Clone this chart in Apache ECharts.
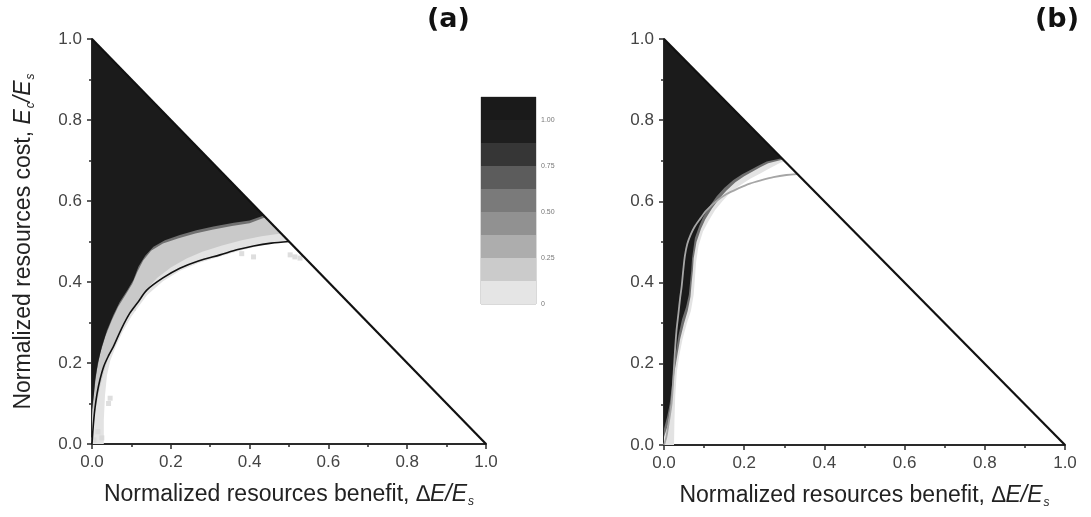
<!DOCTYPE html>
<html>
<head>
<meta charset="utf-8">
<script src="https://cdn.jsdelivr.net/npm/echarts@6/dist/echarts.min.js"></script>
<style>
  html, body { margin: 0; padding: 0; background: #fff; }
  #chart { width: 1091px; height: 517px; }
</style>
</head>
<body>
<div id="chart"></div>
<script>
// Feasible-region boundary between the simplex edge and the theoretical curve.
var diagonal = [[0, 1], [1, 0]];

// Panel (a): theoretical curve and fraction-level contours
var curveA = [[0,0],[0.002,0.03],[0.005,0.065],[0.008,0.092],[0.013,0.125],[0.02,0.158],[0.03,0.192],[0.042,0.218],[0.054,0.24],[0.075,0.285],[0.096,0.323],[0.118,0.352],[0.139,0.38],[0.18,0.41],[0.223,0.434],[0.27,0.452],[0.325,0.467],[0.37,0.48],[0.41,0.489],[0.455,0.496],[0.5,0.5]];
var lightA = [[0,0],[0.03,0],[0.03,0.06],[0.033,0.12],[0.038,0.17],[0.046,0.205],[0.06,0.24],[0.078,0.278],[0.1,0.315],[0.12,0.342],[0.14,0.368],[0.18,0.402],[0.223,0.428],[0.27,0.447],[0.325,0.463],[0.37,0.476],[0.41,0.486],[0.455,0.494],[0.5,0.5]];
var midA = [[0,0.03],[0.01,0.09],[0.02,0.14],[0.032,0.185],[0.048,0.23],[0.066,0.27],[0.088,0.31],[0.11,0.345],[0.135,0.378],[0.165,0.41],[0.2,0.436],[0.24,0.458],[0.28,0.475],[0.33,0.49],[0.38,0.503],[0.43,0.513],[0.48,0.52]];
var darkA = [[0,0.07],[0.006,0.135],[0.012,0.18],[0.021,0.225],[0.034,0.266],[0.05,0.305],[0.066,0.338],[0.085,0.368],[0.102,0.395],[0.115,0.425],[0.13,0.453],[0.15,0.477],[0.18,0.495],[0.22,0.508],[0.262,0.52],[0.305,0.529],[0.355,0.538],[0.4,0.545],[0.44,0.56]];
var blackA = [[0,0.085],[0.005,0.125],[0.008,0.158],[0.015,0.2],[0.025,0.24],[0.038,0.28],[0.054,0.318],[0.07,0.35],[0.09,0.38],[0.105,0.405],[0.118,0.438],[0.135,0.465],[0.156,0.487],[0.185,0.503],[0.223,0.516],[0.265,0.528],[0.308,0.537],[0.36,0.546],[0.4,0.552],[0.436,0.564]];
var strayA = [[0.005,0.01],[0.015,0.03],[0.025,0.015],[0.046,0.113],[0.042,0.1],[0.105,0.335],[0.41,0.462],[0.503,0.467],[0.528,0.459],[0.515,0.462],[0.38,0.47]];

// Panel (b): theoretical curve and fraction-level contours
var curveB = [[0,0],[0.006,0.02],[0.011,0.05],[0.015,0.075],[0.019,0.103],[0.023,0.16],[0.027,0.226],[0.031,0.28],[0.036,0.324],[0.04,0.36],[0.044,0.39],[0.048,0.43],[0.052,0.465],[0.058,0.495],[0.066,0.517],[0.076,0.537],[0.09,0.557],[0.106,0.578],[0.13,0.6],[0.156,0.618],[0.185,0.632],[0.214,0.644],[0.245,0.653],[0.273,0.66],[0.305,0.665],[0.333,0.667]];
var lightB = [[0,0],[0.025,0],[0.026,0.06],[0.028,0.12],[0.032,0.18],[0.038,0.22],[0.046,0.26],[0.057,0.3],[0.067,0.33],[0.074,0.37],[0.077,0.41],[0.08,0.45],[0.086,0.49],[0.097,0.525],[0.11,0.55],[0.127,0.578],[0.145,0.6],[0.165,0.622],[0.19,0.64],[0.215,0.656],[0.24,0.669],[0.265,0.682],[0.29,0.695],[0.302,0.698]];
var darkB = [[0,0.02],[0.01,0.05],[0.016,0.09],[0.021,0.13],[0.026,0.18],[0.033,0.22],[0.04,0.26],[0.05,0.3],[0.059,0.33],[0.066,0.365],[0.069,0.4],[0.072,0.43],[0.074,0.46],[0.081,0.5],[0.092,0.532],[0.103,0.556],[0.12,0.583],[0.137,0.606],[0.156,0.627],[0.178,0.647],[0.2,0.662],[0.22,0.673],[0.24,0.684],[0.26,0.694],[0.297,0.703]];
var blackB = [[0,0.04],[0.008,0.07],[0.014,0.1],[0.019,0.14],[0.024,0.19],[0.03,0.23],[0.036,0.27],[0.045,0.31],[0.055,0.34],[0.062,0.37],[0.065,0.4],[0.068,0.43],[0.07,0.46],[0.077,0.51],[0.088,0.54],[0.098,0.562],[0.115,0.59],[0.131,0.612],[0.15,0.633],[0.173,0.653],[0.195,0.667],[0.214,0.677],[0.235,0.688],[0.256,0.698],[0.294,0.706]];

// Colour scale: nine bands stacked from 0 upwards
var colorbarBands = [0.125, 0.125, 0.125, 0.125, 0.125, 0.125, 0.125, 0.125, 0.125];
var colorbarShades = ['#e5e5e5', '#cbcbcb', '#adadad', '#919191', '#7a7a7a', '#5c5c5c', '#363636', '#1e1e1e', '#1a1a1a'];
var colorbarTicks = [0, 0.25, 0.5, 0.75, 1.0];

var FONT = 'Liberation Sans';

function region(grid, pts, fill, z) {
  var poly = pts.concat([[0, 1]]);
  return {
    type: 'custom', xAxisIndex: grid, yAxisIndex: grid, z: z, silent: true,
    data: pts,
    renderItem: function (params, api) {
      if (params.dataIndex !== 0) return;
      return {
        type: 'polygon',
        shape: { points: poly.map(function (p) { return api.coord(p); }) },
        style: { fill: fill }
      };
    }
  };
}

function valueAxis(grid, name, extra) {
  var ax = {
    type: 'value', gridIndex: grid, min: 0, max: 1, interval: 0.2,
    axisLine: { show: true, onZero: false, lineStyle: { color: '#2a2a2a', width: 2 } },
    axisTick: { show: true, length: 5, lineStyle: { color: '#2a2a2a', width: 1.5 } },
    minorTick: { show: true, splitNumber: 2, length: 3, lineStyle: { color: '#2a2a2a', width: 1.5 } },
    splitLine: { show: false },
    axisLabel: { color: '#444', fontSize: 17, fontFamily: FONT, margin: 10,
      formatter: function (v) { return v.toFixed(1); } }
  };
  if (name) {
    ax.name = name;
    ax.nameLocation = 'middle';
    ax.nameTextStyle = {
      rich: {
        t: { fontSize: 23, fontFamily: FONT, color: '#222', lineHeight: 27 },
        i: { fontSize: 23, fontFamily: FONT, color: '#222', fontStyle: 'italic', lineHeight: 27 },
        s: { fontSize: 12, fontFamily: FONT, color: '#222', fontStyle: 'italic', lineHeight: 27, verticalAlign: 'bottom', padding: [8, 0, 0, 1] }
      }
    };
  }
  for (var k in extra) ax[k] = extra[k];
  return ax;
}

var xName = '{t|Normalized resources benefit, }{i|\u2206E/E}{s|s}';
var yName = '{t|Normalized resources cost, }{i|E}{s|c}{i|/E}{s|s}';

var series = [
  region(0, lightA, '#e3e3e3', 1),
  region(0, midA, '#c9c9c9', 2),
  region(0, darkA, '#707070', 3),
  region(0, blackA, '#1b1b1b', 4),
  { type: 'scatter', xAxisIndex: 0, yAxisIndex: 0, data: strayA, symbol: 'rect', symbolSize: 5,
    itemStyle: { color: '#d6d6d6' }, z: 1, silent: true },
  { type: 'line', xAxisIndex: 0, yAxisIndex: 0, data: curveA, showSymbol: false, smooth: 0.3,
    lineStyle: { color: '#111', width: 1.6 }, z: 6, silent: true },
  { type: 'line', xAxisIndex: 0, yAxisIndex: 0, data: diagonal, showSymbol: false,
    lineStyle: { color: '#111', width: 2.2 }, z: 7, silent: true },

  region(1, lightB, '#e3e3e3', 1),
  region(1, darkB, '#707070', 3),
  region(1, blackB, '#1b1b1b', 4),
  { type: 'line', xAxisIndex: 1, yAxisIndex: 1, data: curveB, showSymbol: false, smooth: 0.3,
    lineStyle: { color: '#a6a6a6', width: 1.8 }, z: 6, silent: true },
  { type: 'line', xAxisIndex: 1, yAxisIndex: 1, data: diagonal, showSymbol: false,
    lineStyle: { color: '#111', width: 2.2 }, z: 7, silent: true }
];

colorbarBands.forEach(function (v, i) {
  series.push({
    type: 'bar', xAxisIndex: 2, yAxisIndex: 2, stack: 'scale', data: [v],
    barWidth: '100%', itemStyle: { color: colorbarShades[i] }, silent: true
  });
});

var option = {
  animation: false,
  backgroundColor: '#fff',
  title: [
    { text: '(a)', left: 422, top: 1, textStyle: { fontSize: 27, fontWeight: 'bold', fontFamily: 'DejaVu Sans', color: '#111' } },
    { text: '(b)', left: 1030, top: 1, textStyle: { fontSize: 27, fontWeight: 'bold', fontFamily: 'DejaVu Sans', color: '#111' } }
  ],
  grid: [
    { left: 92, top: 39, width: 394, height: 405 },
    { left: 664, top: 39, width: 401, height: 406 },
    { left: 481, top: 97, width: 55, height: 207, show: true, borderColor: '#666', borderWidth: 0.5 }
  ],
  xAxis: [
    valueAxis(0, xName, { nameGap: 37 }),
    valueAxis(1, xName, { nameGap: 37 }),
    { type: 'category', gridIndex: 2, data: ['scale'], show: false }
  ],
  yAxis: [
    valueAxis(0, yName, { nameGap: 55, nameRotate: 90 }),
    valueAxis(1, null, {}),
    { type: 'value', gridIndex: 2, position: 'right', min: 0, max: 1.125, interval: 0.25,
      axisLine: { show: false }, axisTick: { show: false }, splitLine: { show: false },
      axisLabel: { fontSize: 7, color: '#777', fontFamily: FONT, margin: 5,
        formatter: function (v) {
          if (colorbarTicks.indexOf(v) < 0) return '';
          return v === 0 ? '0' : v.toFixed(2);
        } } }
  ],
  series: series
};

var chart = echarts.init(document.getElementById('chart'), null, { renderer: 'canvas' });
chart.setOption(option);
</script>
</body>
</html>
